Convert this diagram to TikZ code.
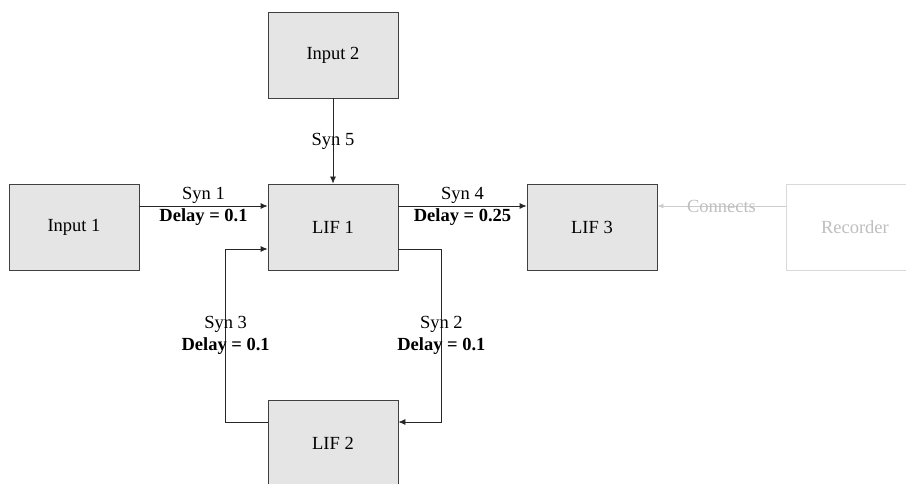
\documentclass[tikz,border=0pt]{standalone}
\usepackage{fontspec}
\setmainfont{Liberation Serif}
\usepackage{tikz}
\usetikzlibrary{arrows.meta}

\begin{document}
\begin{tikzpicture}[x=1pt, y=1pt,
		box/.style={draw=black!75, fill=black!10, line width=0.8pt, minimum width=130pt, minimum height=86pt, inner sep=0pt, font=\fontsize{18.5}{22}\selectfont},
		ghost/.style={draw=black!15, fill=white, line width=0.8pt, minimum width=140pt, minimum height=86pt, inner sep=0pt, text=black!25, font=\fontsize{18.5}{22}\selectfont},
		syn/.style={line width=0.8pt, draw=black!85, -{Latex[length=7pt,width=6pt]}},
		lbl/.style={align=center, inner sep=0pt, font=\fontsize{18.5}{22}\selectfont}]
			%%%%% START %%%%%
			
			\useasboundingbox (0, 0) rectangle (906, 483);
			\clip (0, 0) rectangle (906, 483);
			
			\node[box] (in2) at (333, 428) {Input 2};
			\node[box] (in1) at (74, 256) {Input 1};
			\node[box] (lif1) at (333, 256) {LIF 1};
			\node[box] (lif3) at (592, 256) {LIF 3};
			\node[box] (lif2) at (333, 40) {LIF 2};
			\node[ghost, text width=132pt, align=left, inner xsep=0pt] (rec) at (856, 256) {\hspace*{31pt}Recorder};
			
			\draw[syn] (in2.south) -- node[lbl] {Syn 5} (lif1.north);
			
			\draw[syn] ([yshift=21pt]in1.east) -- node[lbl] {Syn 1\\\textbf{Delay = 0.1}} ([yshift=21pt]lif1.west);
			\draw[syn] ([yshift=21pt]lif1.east) -- node[lbl] {Syn 4\\\textbf{Delay = 0.25}} ([yshift=21pt]lif3.west);
			
			\draw[line width=0.8pt, draw=black!20, -{Latex[length=6pt,width=5pt]}] ([yshift=21pt]rec.west) -- node[lbl, text=black!25] {Connects} ([yshift=21pt]lif3.east);
			
			\coordinate (c2a) at ([xshift=43pt, yshift=-22pt]lif1.east);
			\coordinate (c2b) at ([xshift=43pt, yshift=21pt]lif2.east);
			\draw[syn] ([yshift=-22pt]lif1.east) -- (c2a) -- node[lbl] {Syn 2\\\textbf{Delay = 0.1}} (c2b) -- ([yshift=21pt]lif2.east);
			
			\coordinate (c3a) at ([xshift=-42pt, yshift=21pt]lif2.west);
			\coordinate (c3b) at ([xshift=-42pt, yshift=-22pt]lif1.west);
			\draw[syn] ([yshift=21pt]lif2.west) -- (c3a) -- node[lbl] {Syn 3\\\textbf{Delay = 0.1}} (c3b) -- ([yshift=-22pt]lif1.west);
			
			%%%%% END %%%%%
\end{tikzpicture}
\end{document}
